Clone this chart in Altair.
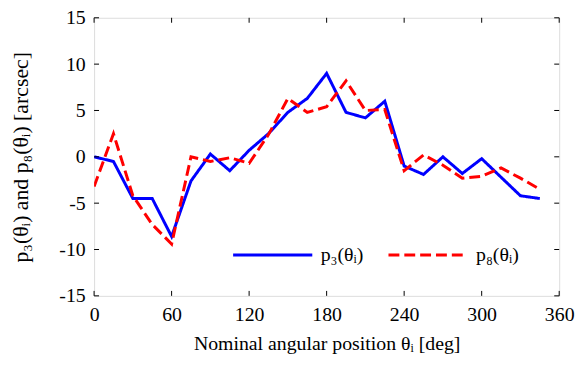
import altair as alt
import pandas as pd

angles = [0, 15, 30, 45, 60, 75, 90, 105, 120, 135, 150, 165, 180, 195, 210, 225, 240, 255, 270, 285, 300, 315, 330, 345]
p3 = [0.0, -0.5, -4.5, -4.5, -8.6, -2.6, 0.3, -1.5, 0.7, 2.5, 4.8, 6.3, 9.0, 4.8, 4.2, 6.0, -1.0, -1.9, 0.0, -1.8, -0.2, -2.2, -4.2, -4.5]
p8 = [-3.2, 2.5, -4.2, -7.3, -9.4, 0.0, -0.5, -0.1, -0.7, 2.4, 6.3, 4.8, 5.4, 8.2, 5.0, 5.1, -1.5, 0.2, -0.9, -2.3, -2.1, -1.2, -2.3, -3.5]
series_names = ["p\u2083(\u03b8\u1d62)", "p\u2088(\u03b8\u1d62)"]
series_colors = ["#0000ff", "#ff0000"]
series_dash = [[1, 0], [11, 5]]
x_ticks = [0, 60, 120, 180, 240, 300, 360]
y_ticks = [-15, -10, -5, 0, 5, 10, 15]

rows = []
for a, v in zip(angles, p3):
    rows.append({"angle": a, "value": v, "series": series_names[0]})
for a, v in zip(angles, p8):
    rows.append({"angle": a, "value": v, "series": series_names[1]})
df = pd.DataFrame(rows)

W, H = 470, 281
FONT = "Liberation Serif"
minus_fix = "datum.value < 0 ? '-' + abs(datum.value) : '' + datum.value"

xscale = alt.Scale(domain=[0, 360], nice=False, zero=False)
yscale = alt.Scale(domain=[-15, 15], nice=False, zero=False)

lines = alt.Chart(df).mark_line(strokeWidth=3, clip=True).encode(
    x=alt.X("angle:Q", scale=xscale,
            axis=alt.Axis(values=x_ticks, title="Nominal angular position \u03b8\u1d62 [deg]",
                          domain=False, ticks=False, grid=False, labelPadding=9,
                          labelExpr=minus_fix, titlePadding=9, labelFlush=False)),
    y=alt.Y("value:Q", scale=yscale,
            axis=alt.Axis(values=y_ticks,
                          title="p\u2083(\u03b8\u1d62) and p\u2088(\u03b8\u1d62) [arcsec]",
                          domain=False, ticks=False, grid=False, labelPadding=9,
                          labelExpr=minus_fix, titleFontSize=22, titlePadding=27,
                          labelFlush=False)),
    color=alt.Color("series:N", scale=alt.Scale(domain=series_names, range=series_colors),
                    legend=alt.Legend(orient="none", legendX=139, legendY=198,
                                      direction="horizontal", title=None,
                                      symbolType="stroke", symbolSize=6400,
                                      symbolStrokeWidth=3,
                                      labelOffset=7, columnPadding=18, padding=0)),
    strokeDash=alt.StrokeDash("series:N", scale=alt.Scale(domain=series_names, range=series_dash),
                              legend=None),
)

xt = pd.DataFrame({"v": x_ticks})
yt = pd.DataFrame({"v": y_ticks})
tick_x_bottom = alt.Chart(xt).mark_rule(color="black", strokeWidth=1).encode(
    x=alt.X("v:Q", scale=xscale), y=alt.value(H), y2=alt.value(H - 5))
tick_x_top = alt.Chart(xt).mark_rule(color="black", strokeWidth=1).encode(
    x=alt.X("v:Q", scale=xscale), y=alt.value(0), y2=alt.value(5))
tick_y_left = alt.Chart(yt).mark_rule(color="black", strokeWidth=1).encode(
    y=alt.Y("v:Q", scale=yscale), x=alt.value(0), x2=alt.value(5))
tick_y_right = alt.Chart(yt).mark_rule(color="black", strokeWidth=1).encode(
    y=alt.Y("v:Q", scale=yscale), x=alt.value(W), x2=alt.value(W - 5))

chart = alt.layer(lines, tick_x_bottom, tick_x_top, tick_y_left, tick_y_right).properties(
    width=W, height=H,
    autosize=alt.AutoSizeParams(type="none"),
    padding={"left": 87, "top": 8, "right": 18, "bottom": 70},
).configure_view(stroke="black", strokeWidth=1).configure(
    background="white", font=FONT
).configure_axis(
    labelFont=FONT, labelFontSize=20, labelColor="black",
    titleFont=FONT, titleFontSize=20, titleFontWeight="normal", titleColor="black",
).configure_legend(
    labelFont=FONT, labelFontSize=20, labelColor="black"
)

chart.save("out.html", embed_options={"renderer": "svg", "actions": False})
